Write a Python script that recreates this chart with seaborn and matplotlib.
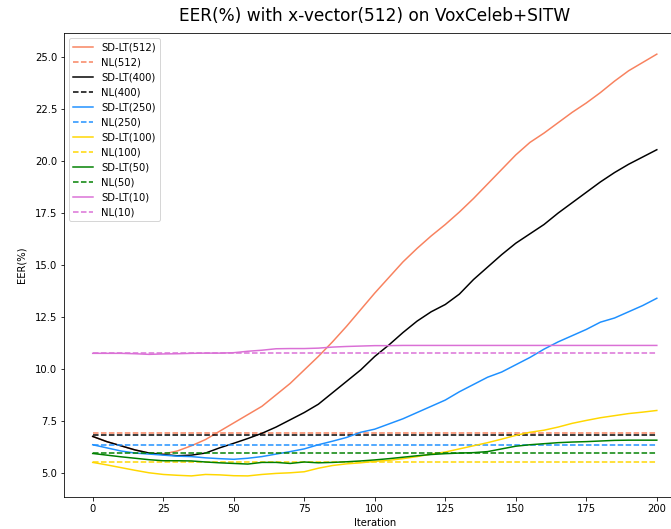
import matplotlib
matplotlib.use("Agg")
import matplotlib.pyplot as plt
import seaborn as sns
import pandas as pd

iterations = list(range(0, 201, 5))

sdlt_512 = [6.75, 6.5, 6.3, 6.1, 5.95, 5.9, 6.05, 6.3, 6.6, 7.0,
            7.4, 7.8, 8.2, 8.75, 9.3, 9.95, 10.6, 11.3, 12.05, 12.85,
            13.65, 14.4, 15.15, 15.8, 16.4, 16.95, 17.55, 18.2, 18.9, 19.6,
            20.3, 20.9, 21.35, 21.85, 22.35, 22.8, 23.3, 23.85, 24.35, 24.75,
            25.15]
sdlt_400 = [6.75, 6.5, 6.3, 6.1, 5.95, 5.88, 5.82, 5.85, 5.95, 6.2,
            6.42, 6.65, 6.9, 7.2, 7.55, 7.9, 8.3, 8.85, 9.4, 9.95,
            10.6, 11.15, 11.75, 12.3, 12.75, 13.1, 13.6, 14.3, 14.9, 15.5,
            16.05, 16.5, 16.95, 17.5, 18.0, 18.5, 19.0, 19.45, 19.85, 20.2,
            20.55]
sdlt_250 = [6.35, 6.2, 6.05, 5.95, 5.9, 5.85, 5.8, 5.78, 5.72, 5.68,
            5.65, 5.7, 5.78, 5.9, 6.02, 6.15, 6.35, 6.52, 6.7, 6.95,
            7.1, 7.35, 7.6, 7.9, 8.2, 8.5, 8.9, 9.25, 9.6, 9.85,
            10.2, 10.55, 10.95, 11.3, 11.6, 11.9, 12.25, 12.45, 12.75, 13.05,
            13.4]
sdlt_100 = [5.5, 5.38, 5.25, 5.12, 5.0, 4.92, 4.88, 4.85, 4.92, 4.9,
            4.86, 4.85, 4.92, 4.97, 5.0, 5.05, 5.22, 5.35, 5.43, 5.48,
            5.55, 5.6, 5.68, 5.78, 5.9, 6.0, 6.15, 6.3, 6.45, 6.62,
            6.8, 6.95, 7.05, 7.2, 7.38, 7.52, 7.65, 7.75, 7.85, 7.92,
            8.0]
sdlt_50 = [5.93, 5.85, 5.77, 5.7, 5.63, 5.58, 5.58, 5.57, 5.52, 5.48,
           5.45, 5.42, 5.5, 5.5, 5.45, 5.52, 5.48, 5.5, 5.53, 5.57,
           5.62, 5.68, 5.75, 5.82, 5.88, 5.92, 5.95, 5.97, 6.02, 6.15,
           6.28, 6.35, 6.4, 6.45, 6.48, 6.5, 6.53, 6.56, 6.57, 6.57,
           6.57]
sdlt_10 = [10.75, 10.75, 10.75, 10.73, 10.7, 10.72, 10.73, 10.75, 10.76, 10.76,
           10.78, 10.85, 10.9, 10.97, 10.98, 10.98, 11.0, 11.05, 11.08, 11.1,
           11.12, 11.12, 11.13, 11.13, 11.13, 11.13, 11.13, 11.13, 11.13, 11.13,
           11.13, 11.13, 11.13, 11.13, 11.13, 11.13, 11.13, 11.13, 11.13, 11.13,
           11.13]

# Baseline (NL) EER levels, constant over iterations
nl_512 = 6.9
nl_400 = 6.8
nl_250 = 6.33
nl_100 = 5.5
nl_50 = 5.93
nl_10 = 10.75

sizes = ["512", "400", "250", "100", "50", "10"]
sdlt_series = [sdlt_512, sdlt_400, sdlt_250, sdlt_100, sdlt_50, sdlt_10]
nl_levels = [nl_512, nl_400, nl_250, nl_100, nl_50, nl_10]
colors = ["#f8825f", "black", "dodgerblue", "gold", "green", "orchid"]

fig = plt.figure(figsize=(671 / 72, 529 / 72), dpi=72)
ax = fig.add_axes([0.0961, 0.0605, 0.9248, 0.877])

for size, series, nl, color in zip(sizes, sdlt_series, nl_levels, colors):
    df = pd.DataFrame({"Iteration": iterations, "EER": series})
    sns.lineplot(data=df, x="Iteration", y="EER", ax=ax, color=color,
                 linewidth=1.5, label=f"SD-LT({size})")
    df_nl = pd.DataFrame({"Iteration": iterations, "EER": [nl] * len(iterations)})
    sns.lineplot(data=df_nl, x="Iteration", y="EER", ax=ax, color=color,
                 linewidth=1.5, linestyle="--", label=f"NL({size})")

ax.set_xticks([0, 25, 50, 75, 100, 125, 150, 175, 200])
ax.set_yticks([5.0, 7.5, 10.0, 12.5, 15.0, 17.5, 20.0, 22.5, 25.0])
ax.set_xlabel("Iteration")
ax.set_ylabel("EER(%)", labelpad=9)
ax.set_title("EER(%) with x-vector(512) on VoxCeleb+SITW", fontsize=17, pad=12)
ax.legend(loc="upper left")

fig.savefig("out.png", dpi=72)
